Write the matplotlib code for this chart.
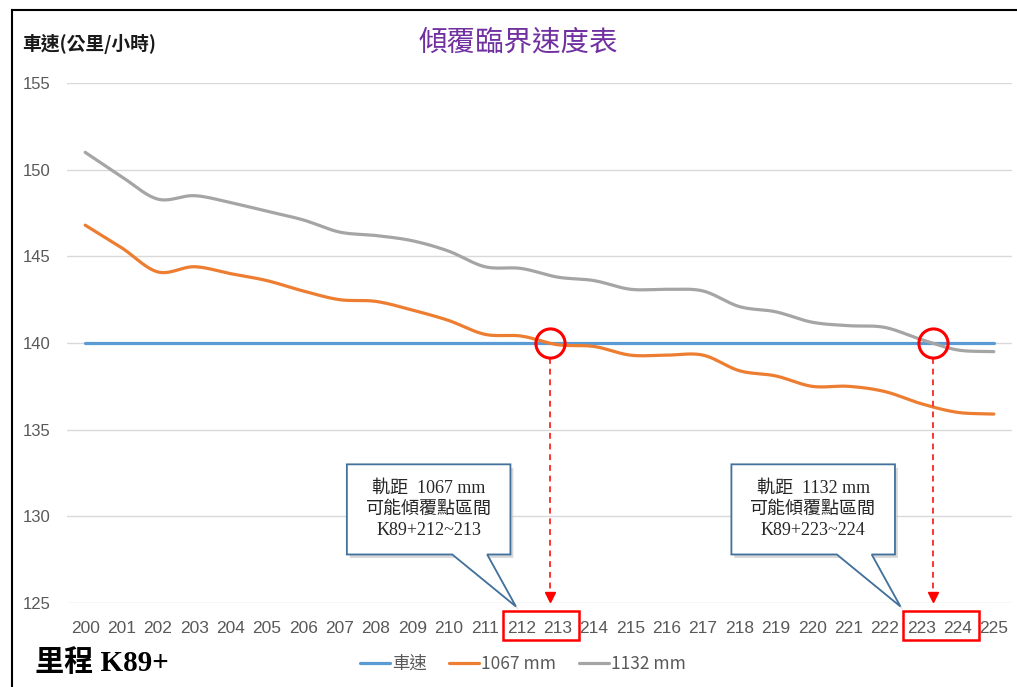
import numpy as np
import matplotlib as mpl
mpl.use('Agg')
import matplotlib.pyplot as plt
from matplotlib.patches import Rectangle, Polygon
from matplotlib.lines import Line2D
import matplotlib.transforms as mtrans

#######################################################################################
# Data: critical overturning speed along K89+200 ~ K89+225
stations = list(range(200, 226))
speed = [140] * 26
gauge_1067 = [146.8, 145.5, 144.1, 144.4, 144.0, 143.6, 143.0, 142.5, 142.4, 141.9,
              141.3, 140.5, 140.4, 139.9, 139.8, 139.3, 139.3, 139.3, 138.4, 138.1,
              137.5, 137.5, 137.2, 136.5, 136.0, 135.9]
gauge_1132 = [151.0, 149.6, 148.3, 148.5, 148.1, 147.6, 147.1, 146.4, 146.2, 145.9,
              145.3, 144.4, 144.3, 143.8, 143.6, 143.1, 143.1, 143.0, 142.1, 141.8,
              141.2, 141.0, 140.9, 140.2, 139.6, 139.5]
series_names = ["車速", "1067 mm", "1132 mm"]
gauges = ["1067", "1132"]
intervals = [(212, 213), (223, 224)]

#######################################################################################
# Fonts and colours
CJK = 'Noto Sans CJK TC'
TICK_FONT = ['Liberation Sans Narrow', 'Liberation Sans', 'DejaVu Sans']
SERIF = ['Liberation Serif', CJK]
colors = ['#5B9BD5', '#ED7D31', '#A5A5A5']
text_gray = '#595959'
grid_gray = '#D9D9D9'


def smooth(x, y, n=24):
    # Catmull-Rom curve through the points, like a smoothed spreadsheet line
    x = np.asarray(x, float)
    y = np.asarray(y, float)
    xp = np.concatenate([[2 * x[0] - x[1]], x, [2 * x[-1] - x[-2]]])
    yp = np.concatenate([[2 * y[0] - y[1]], y, [2 * y[-1] - y[-2]]])
    t = np.linspace(0, 1, n, endpoint=False)
    xs, ys = [], []
    for i in range(1, len(xp) - 2):
        for arr, out in ((xp, xs), (yp, ys)):
            p0, p1, p2, p3 = arr[i - 1], arr[i], arr[i + 1], arr[i + 2]
            out.append(0.5 * (2 * p1 + (-p0 + p2) * t
                              + (2 * p0 - 5 * p1 + 4 * p2 - p3) * t ** 2
                              + (-p0 + 3 * p1 - 3 * p2 + p3) * t ** 3))
    xs.append([x[-1]])
    ys.append([y[-1]])
    return np.concatenate(xs), np.concatenate(ys)


def crossing(x, y, level=140):
    # first point where a series drops under the level, linearly interpolated
    for i in range(1, len(y)):
        if y[i - 1] >= level > y[i]:
            return x[i - 1] + (y[i - 1] - level) / (y[i - 1] - y[i])
    return x[-1]


#######################################################################################
fig = plt.figure(figsize=(10.17, 6.87), dpi=100, facecolor='w')
ax = fig.add_axes([67 / 1017, 1 - 603 / 687, (1012 - 67) / 1017, (603 - 83) / 687])

for vals, c, name in zip([speed, gauge_1067, gauge_1132], colors, series_names):
    sx, sy = smooth(stations, vals)
    ax.plot(sx, sy, color=c, lw=2.3, solid_capstyle='round', label=name, zorder=3)

ax.set_xlim(stations[0] - 0.5, stations[-1] + 0.5)
ax.set_ylim(125, 155)
ax.set_yticks(range(125, 156, 5))
ax.set_xticks(stations)
ax.set_xticklabels([str(s) for s in stations])
ax.grid(axis='y', color=grid_gray, lw=1)
ax.set_axisbelow(True)
for sp in ax.spines.values():
    sp.set_visible(False)
ax.tick_params(length=0, labelcolor=text_gray, labelsize=12.5)
ax.tick_params(axis='y', pad=12, labelsize=12)
ax.tick_params(axis='x', pad=13)
for lab in ax.get_xticklabels() + ax.get_yticklabels():
    lab.set_family(TICK_FONT)

#######################################################################################
# Crossing markers, arrows and highlighted intervals
below = mtrans.blended_transform_factory(ax.transData, ax.transAxes)
for vals, (a, b) in zip([gauge_1067, gauge_1132], intervals):
    xc = crossing(stations, vals, speed[0])
    ax.plot([xc], [speed[0]], 'o', ms=21, mfc='none', mec='#FF0000', mew=2.2, zorder=5)
    ax.plot([xc, xc], [speed[0] - 0.85, 125.6], color='#FF3333', lw=1.4,
            ls=(0, (3, 2.5)), zorder=4, clip_on=False)
    ax.plot([xc], [125.35], 'v', ms=7, color='#FF0000', zorder=5, clip_on=False)
    ax.add_patch(Rectangle((a - 0.5, -0.072), (b - a) + 1.1, 0.056, transform=below,
                           fill=False, ec='#FF0000', lw=1.8, clip_on=False, zorder=6))

# Callout boxes
for g, (a, b), off in zip(gauges, intervals, [0.3, 0.72]):
    right = a - off
    left = right - 4.5
    top, bot = 133.0, 127.8
    tip = (right + 0.15, 124.8)
    base0, base1 = right - 1.6, right - 0.64
    pts = [(left, top), (right, top), (right, bot), (base1, bot), tip, (base0, bot), (left, bot)]
    shadow = [(px + 0.08, py - 0.2) for px, py in pts]
    ax.add_patch(Polygon(shadow, closed=True, fc='#BFBFBF', ec='none', alpha=0.6,
                         clip_on=False, zorder=6))
    ax.add_patch(Polygon(pts, closed=True, fc='white', ec='#41719C', lw=1.3,
                         clip_on=False, zorder=7))
    label = "軌距  %s mm\n可能傾覆點區間\nK89+%d~%d" % (g, a, b)
    ax.text((left + right) / 2, (top + bot) / 2, label, ha='center', va='center',
            family=SERIF, fontsize=13, color='#262626', linespacing=1.3, zorder=8)

#######################################################################################
# Titles, legend and frame
fig.text(0.510, 1 - 43 / 687, "傾覆臨界速度表", ha='center', va='center',
         family=CJK, fontsize=20.5, color='#7030A0')
fig.text(22 / 1017, 1 - 44 / 687, "車速(公里/小時)", ha='left', va='center',
         family=CJK, fontsize=13.5, weight='bold', color='#1a1a1a')
fig.text(35 / 1017, 1 - 663 / 687, "里程 K89+", ha='left', va='center',
         family=SERIF, fontsize=21, weight='bold', color='black')

leg = fig.legend(loc='center', bbox_to_anchor=(0.514, 1 - 664 / 687), ncol=3, frameon=False,
                 handlelength=1.75, handletextpad=0.1, columnspacing=1.3,
                 prop={'family': [TICK_FONT[0], CJK], 'size': 12.5})
for t in leg.get_texts():
    t.set_color(text_gray)

fig.add_artist(Line2D([12 / 1017, 12 / 1017], [0, 1 - 10 / 687], color='black', lw=1.5,
                      transform=fig.transFigure))
fig.add_artist(Line2D([12 / 1017, 1], [1 - 10 / 687, 1 - 10 / 687], color='black', lw=1.5,
                      transform=fig.transFigure))

fig.savefig('out.png', dpi=100, facecolor='w')
